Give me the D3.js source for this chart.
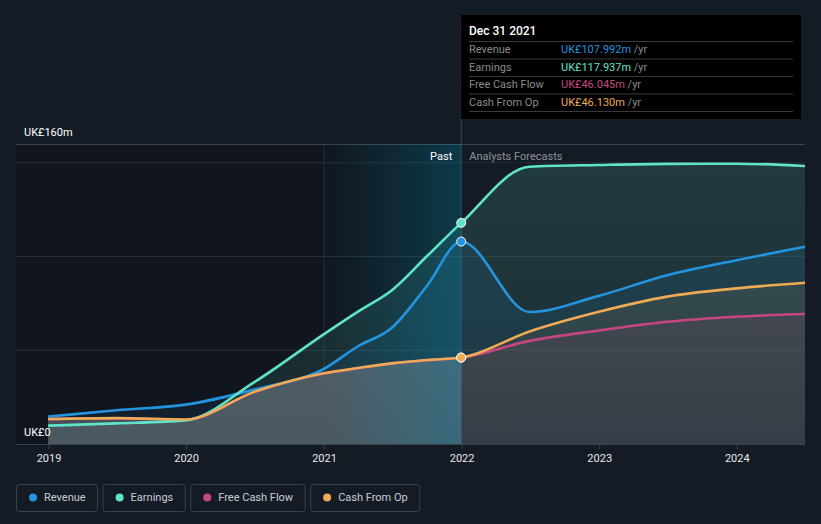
<!DOCTYPE html>
<html><head><meta charset="utf-8">
<script src="https://cdn.jsdelivr.net/npm/d3@7"></script>
<style>
body{margin:0;background:#151b25;}
svg{display:block;font-family:Roboto,"Noto Sans",sans-serif;}
</style></head><body>
<svg id="c" width="821" height="524"></svg>
<script>
// ---- data ----
const dates = ["2018-12-31","2019-06-30","2019-12-31","2020-06-30","2020-12-31","2021-03-31","2021-06-30","2021-09-30","2021-12-31","2022-06-30","2022-12-31","2023-06-30","2023-12-31","2024-06-30"];
const revenue  = [14.6, 18.0, 21.0, 29.0, 40.0, 52.0, 62.0, 84.0, 107.992, 70.4, 79.0, 90.0, 98.0, 105.2];
const earnings = [9.8, 11.0, 12.6, 33.0, 58.5, 70.5, 82.0, 100.0, 117.937, 147.9, 148.8, 149.4, 149.5, 148.3];
const fcf      = [13.2, 13.7, 13.0, 27.7, 37.6, 40.4, 42.9, 44.7, 46.045, 55.0, 60.5, 65.2, 67.9, 69.3];
const cfo      = [13.3, 13.8, 13.1, 27.8, 37.7, 40.5, 43.0, 44.8, 46.13, 60.0, 70.5, 78.6, 83.0, 86.0];
const seriesNames  = ["Revenue","Earnings","Free Cash Flow","Cash From Op"];
const seriesColors = ["#2394df","#5fe3c9","#c6477f","#eeaa55"];
const tooltipDate = "Dec 31 2021";
const tooltipValues = ["UK£107.992m","UK£117.937m","UK£46.045m","UK£46.130m"];
const yTicks = [0,50,100,150];
const yLabels = ["UK£0","UK£160m"];
const xYears = [2019,2020,2021,2022,2023,2024];
const cutDate = "2021-12-31";
const pastStart = "2021-01-01";

// ---- setup ----
const parse = d3.timeParse("%Y-%m-%d");
const D = dates.map(parse);
const svg = d3.select("#c");
const L=16, R=805, T=144, B=444;
const x = d3.scaleTime().domain([new Date(2019,0,1), new Date(2024,5,30)]).range([48.5, 805]);
const y = d3.scaleLinear().domain([0,160]).range([B, T]);
const xc = x(parse(cutDate)), xp = x(parse(pastStart));
const defs = svg.append("defs");

function grad(id, color, o1, o2){
  const g = defs.append("linearGradient").attr("id",id).attr("gradientUnits","userSpaceOnUse")
    .attr("x1",0).attr("x2",0).attr("y1",T).attr("y2",B);
  g.append("stop").attr("offset",0).attr("stop-color",color).attr("stop-opacity",o1);
  g.append("stop").attr("offset",1).attr("stop-color",color).attr("stop-opacity",o2);
}
defs.append("clipPath").attr("id","cpPast").append("rect").attr("x",0).attr("y",0).attr("width",xc).attr("height",524);
defs.append("clipPath").attr("id","cpFut").append("rect").attr("x",xc).attr("y",0).attr("width",821-xc).attr("height",524);

// past darker overlay
svg.append("rect").attr("x",L).attr("y",T).attr("width",xc-L).attr("height",B-T).attr("fill","rgba(0,0,0,0.17)");

// gridlines
svg.append("g").selectAll("line").data(yTicks.slice(1)).join("line")
  .attr("x1",L).attr("x2",R).attr("y1",d=>y(d)).attr("y2",d=>y(d))
  .attr("stroke","#262d38").attr("stroke-width",1);
svg.append("line").attr("x1",L).attr("x2",R).attr("y1",T+0.5).attr("y2",T+0.5).attr("stroke","#3c424c");

const series = [
  {name:"Earnings", vals:earnings, color:seriesColors[1], past:[0.14,0.10], fut:[0.16,0.09]},
  {name:"Revenue",  vals:revenue,  color:seriesColors[0], past:[0.12,0.08], fut:[0.13,0.07]},
  {name:"Cash From Op", vals:cfo,  color:seriesColors[3], past:[0.0,0.0],  fut:[0.13,0.07]},
  {name:"Free Cash Flow", vals:fcf, color:seriesColors[2], past:[0.0,0.0], fut:[0.13,0.08]}
];
const curve = d3.curveMonotoneX;
const area = v => d3.area().x((d,i)=>x(D[i])).y0(y(0)).y1(d=>y(d)).curve(curve)(v);
const line = v => d3.line().x((d,i)=>x(D[i])).y(d=>y(d)).curve(curve)(v);

series.forEach((s,k)=>{
  grad("gp"+k, s.color, s.past[0], s.past[1]);
  grad("gf"+k, s.color, s.fut[0], s.fut[1]);
  svg.append("path").attr("d",area(s.vals)).attr("fill",`url(#gp${k})`).attr("clip-path","url(#cpPast)");
  svg.append("path").attr("d",area(s.vals)).attr("fill",`url(#gf${k})`).attr("clip-path","url(#cpFut)");
});
// past grey fill under cash from op
grad("gpc","#b4a6ac",0.40,0.32);
svg.append("path").attr("d",area(cfo)).attr("fill","url(#gpc)").attr("clip-path","url(#cpPast)");

// highlight of the last past year
const hg = defs.append("linearGradient").attr("id","hl").attr("x1",0).attr("x2",1).attr("y1",0).attr("y2",0);
hg.append("stop").attr("offset",0).attr("stop-color","#00a0c8").attr("stop-opacity",0.0);
hg.append("stop").attr("offset",1).attr("stop-color","#00a0c8").attr("stop-opacity",0.26);
svg.append("rect").attr("x",xp).attr("y",T).attr("width",xc-xp).attr("height",B-T).attr("fill","url(#hl)");
svg.append("line").attr("x1",xp).attr("x2",xp).attr("y1",T).attr("y2",B).attr("stroke","rgba(70,110,130,0.3)");
svg.append("line").attr("x1",xc).attr("x2",xc).attr("y1",15).attr("y2",B).attr("stroke","rgba(70,110,130,0.55)");

// baseline + x axis
svg.append("line").attr("x1",L).attr("x2",R).attr("y1",B+0.5).attr("y2",B+0.5).attr("stroke","#3c424c");
const xa = svg.append("g").attr("transform",`translate(0,${B})`)
  .call(d3.axisBottom(x).tickValues(xYears.map(yr=>new Date(yr,0,1))).tickFormat(d3.timeFormat("%Y")).tickSize(5).tickPadding(5));
xa.select(".domain").remove();
xa.selectAll(".tick line").attr("stroke","#3c424c");
xa.selectAll(".tick text").attr("fill","#e6e8eb").attr("font-size",11).attr("font-family","Roboto");

// lines
[[fcf,seriesColors[2]],[revenue,seriesColors[0]],[earnings,seriesColors[1]],[cfo,seriesColors[3]]].forEach(([v,c])=>{
  svg.append("path").attr("d",line(v)).attr("fill","none").attr("stroke",c).attr("stroke-width",2.6);
});
// dots at cut
const ci = dates.indexOf(cutDate);
[[fcf,seriesColors[2]],[cfo,seriesColors[3]],[revenue,seriesColors[0]],[earnings,seriesColors[1]]].forEach(([v,c])=>{
  svg.append("circle").attr("cx",x(D[ci])).attr("cy",y(v[ci])).attr("r",4.5).attr("fill",c).attr("stroke","#fff").attr("stroke-width",1);
});

// y labels
svg.append("text").attr("x",24).attr("y",136).text(yLabels[1]).attr("fill","#fff").attr("font-size",11);
svg.append("text").attr("x",24).attr("y",436).text(yLabels[0]).attr("fill","#fff").attr("font-size",11);
// Past / forecasts
svg.append("text").attr("x",xc-9).attr("y",160).attr("text-anchor","end").text("Past").attr("fill","#fff").attr("font-size",11);
svg.append("text").attr("x",xc+8).attr("y",160).text("Analysts Forecasts").attr("fill","#8c9199").attr("font-size",11);

// tooltip
const tt = svg.append("g");
tt.append("rect").attr("x",461).attr("y",15).attr("width",340).attr("height",104).attr("fill","#000");
tt.append("text").attr("x",469).attr("y",35).text(tooltipDate).attr("fill","#fff").attr("font-size",12).attr("font-weight",500);
[41,58.5,76,93.5,111].forEach(yy=>tt.append("line").attr("x1",469).attr("x2",793).attr("y1",yy+0.5).attr("y2",yy+0.5).attr("stroke","#3a3a3a"));
seriesNames.forEach((n,i)=>{
  const yy = 53 + i*17.5;
  tt.append("text").attr("x",469).attr("y",yy).text(n).attr("fill","#8a8a8a").attr("font-size",11);
  const t = tt.append("text").attr("x",561).attr("y",yy).attr("font-size",11);
  t.append("tspan").text(tooltipValues[i]).attr("fill",seriesColors[i]);
  t.append("tspan").text(" /yr").attr("fill","#8a8a8a");
});

// legend
let lx = 16;
seriesNames.forEach((n,i)=>{
  const g = svg.append("g");
  const t = g.append("text").attr("x",lx+28).attr("y",498).attr("dominant-baseline","middle").text(n)
    .attr("fill","#c8ccd2").attr("font-size",11);
  const w = t.node().getComputedTextLength();
  const bw = 28 + w + 11.5;
  g.insert("rect","text").attr("x",lx+0.5).attr("y",484.5).attr("width",bw).attr("height",27).attr("rx",2.5)
    .attr("fill","none").attr("stroke","#3a404a");
  g.append("circle").attr("cx",lx+17).attr("cy",497.5).attr("r",4).attr("fill",seriesColors[i]);
  lx += bw + 5.5;
});
</script>
</body></html>
